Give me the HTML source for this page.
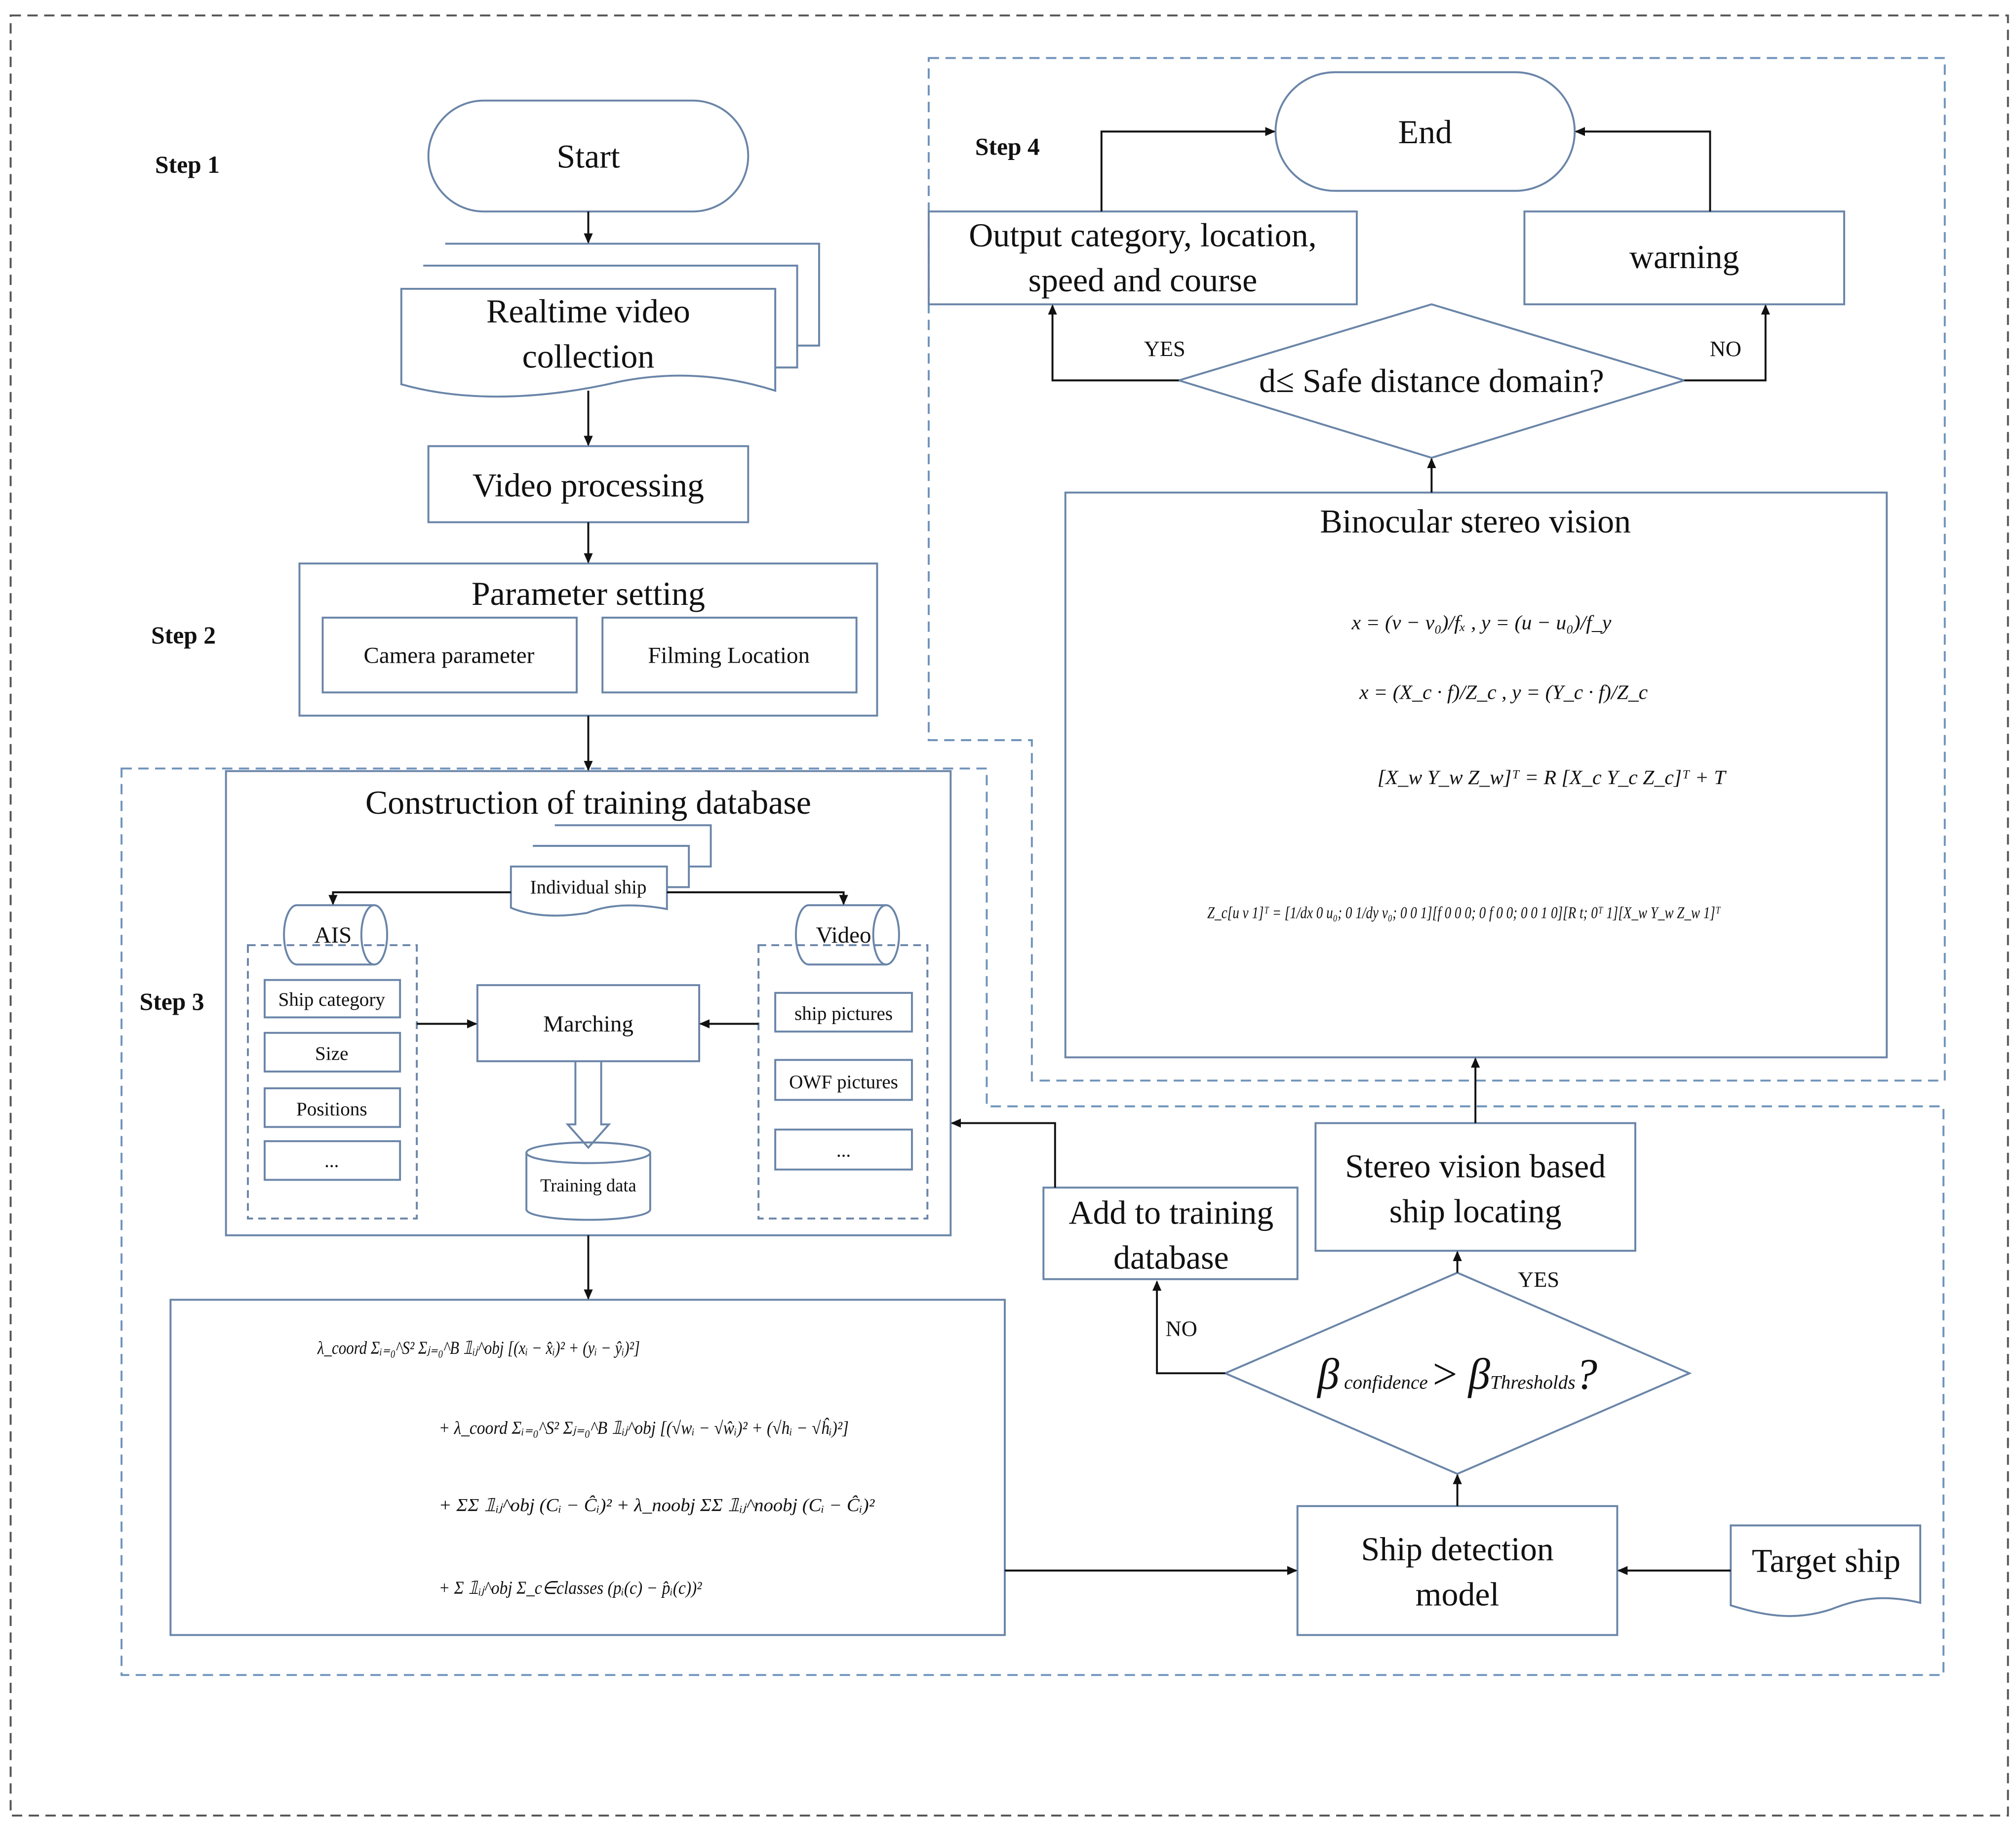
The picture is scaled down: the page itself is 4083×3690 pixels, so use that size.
<!DOCTYPE html>
<html><head><meta charset="utf-8"><style>
html,body{margin:0;padding:0;background:#fff}
svg{display:block}
text{font-family:"Liberation Serif",serif;fill:#111}
</style></head><body>
<svg width="4083" height="3690" viewBox="0 0 1563 1413" xmlns="http://www.w3.org/2000/svg">
<defs><marker id="a" markerWidth="8" markerHeight="8" refX="7" refY="4" orient="auto" markerUnits="userSpaceOnUse"><path d="M0,0.5 L8,4 L0,7.5 z" fill="#111"/></marker></defs>
<rect width="1563" height="1413" fill="#fff"/>
<rect x="8" y="12" width="1549" height="1396" fill="none" stroke="#555" stroke-width="1.5" stroke-dasharray="8,5"/>
<path d="M720,45 H1508 V838 H800 V574 H720 Z" fill="none" stroke="#6f93bb" stroke-width="1.5" stroke-dasharray="8,5"/>
<path d="M94,596 H765 V858 H1507 V1299 H94 Z" fill="none" stroke="#6f93bb" stroke-width="1.5" stroke-dasharray="8,5"/>
<g fill="none" stroke="#6a85a8" stroke-width="1.5">
<rect x="332" y="78" width="248" height="86" rx="43"/>
<path d="M345,189 H635 V268 H618"/>
<path d="M328,206 H618 V285 H601"/>
<path d="M311,224 H601 V303 C560,290 520,288 480,296 C420,310 360,312 311,298 Z" fill="#fff"/>
<rect x="332" y="346" width="248" height="59"/>
<rect x="232" y="437" width="448" height="118"/>
<rect x="250" y="479" width="197" height="58"/>
<rect x="467" y="479" width="197" height="58"/>
<rect x="175" y="598" width="562" height="360"/>
<path d="M430,640 H551 V672 H534"/>
<path d="M413,656 H534 V688 H517"/>
<path d="M396,672 H517 V705 C490,700 470,702 455,708 C430,712 410,710 396,704 Z" fill="#fff"/>
<path d="M230,702 H290 A10,23 0 0 1 290,748 H230 A10,23 0 0 1 230,702 Z"/>
<path d="M290,702 A10,23 0 0 0 290,748"/>
<path d="M627,702 H687 A10,23 0 0 1 687,748 H627 A10,23 0 0 1 627,702 Z"/>
<path d="M687,702 A10,23 0 0 0 687,748"/>
<rect x="192" y="733" width="131" height="212" stroke-dasharray="6,4"/>
<rect x="588" y="733" width="131" height="212" stroke-dasharray="6,4"/>
<rect x="205" y="760" width="105" height="29"/>
<rect x="205" y="801" width="105" height="30"/>
<rect x="205" y="844" width="105" height="30"/>
<rect x="205" y="885" width="105" height="30"/>
<rect x="601" y="770" width="106" height="30"/>
<rect x="601" y="822" width="106" height="31"/>
<rect x="601" y="876" width="106" height="31"/>
<rect x="370" y="764" width="172" height="59"/>
<path d="M446,823 V872 H440 L456,890 L472,872 H466 V823"/>
<path d="M408,894 A48,8 0 0 1 504,894 V938 A48,8 0 0 1 408,938 Z"/>
<path d="M408,894 A48,8 0 0 0 504,894"/>
<rect x="132" y="1008" width="647" height="260"/>
<rect x="1006" y="1168" width="248" height="100"/>
<path d="M1342,1183 H1489 V1243 C1460,1236 1440,1240 1420,1248 C1390,1258 1365,1252 1342,1245 Z"/>
<path d="M950,1065 L1130,987 L1310,1065 L1130,1143 Z"/>
<rect x="1020" y="871" width="248" height="99"/>
<rect x="826" y="382" width="637" height="438"/>
<rect x="809" y="921" width="197" height="71"/>
<path d="M914,295 L1110,236 L1306,295 L1110,355 Z"/>
<rect x="720" y="164" width="332" height="72"/>
<rect x="1182" y="164" width="248" height="72"/>
<rect x="989" y="56" width="232" height="92" rx="46"/>
</g>
<g fill="none" stroke="#111" stroke-width="1.5" marker-end="url(#a)">
<path d="M456,164 V188"/><path d="M456,303 V345"/><path d="M456,405 V436"/><path d="M456,555 V597"/>
<path d="M396,692 H258 V701"/><path d="M517,692 H654 V701"/>
<path d="M323,794 H369"/><path d="M588,794 H543"/>
<path d="M456,958 V1007"/><path d="M779,1218 H1005"/><path d="M1342,1218 H1255"/>
<path d="M1130,1168 V1144"/><path d="M1130,987 V971"/><path d="M1144,871 V821"/>
<path d="M950,1065 H897 V994"/><path d="M818,921 V871 H738"/>
<path d="M1110,382 V356"/><path d="M914,295 H816 V237"/><path d="M1306,295 H1369 V237"/>
<path d="M854,164 V102 H988"/><path d="M1326,164 V102 H1222"/>
</g>
<g text-anchor="middle" font-size="26">
<text x="456" y="130">Start</text>
<text x="456" y="250">Realtime video</text><text x="456" y="285">collection</text>
<text x="456" y="385">Video processing</text>
<text x="456" y="469">Parameter setting</text>
<text x="456" y="631">Construction of training database</text>
<text x="1130" y="1210">Ship detection</text><text x="1130" y="1245">model</text>
<text x="1416" y="1219">Target ship</text>
<text x="1144" y="913">Stereo vision based</text><text x="1144" y="948">ship locating</text>
<text x="908" y="949">Add to training</text><text x="908" y="984">database</text>
<text x="1144" y="413">Binocular stereo vision</text>
<text x="1110" y="304">d≤ Safe distance domain?</text>
<text x="886" y="191">Output category,  location,</text><text x="886" y="226">speed and course</text>
<text x="1306" y="208">warning</text>
<text x="1105" y="111">End</text>
</g>
<g text-anchor="middle" font-size="18">
<text x="348" y="514">Camera parameter</text><text x="565" y="514">Filming Location</text>
<text x="258" y="731">AIS</text><text x="654" y="731">Video</text>
<text x="456" y="800">Marching</text>
</g>
<g text-anchor="middle" font-size="15">
<text x="456" y="693">Individual ship</text>
<text x="257" y="780">Ship category</text><text x="257" y="822">Size</text><text x="257" y="865">Positions</text><text x="257" y="905">...</text>
<text x="654" y="791">ship pictures</text><text x="654" y="844">OWF pictures</text><text x="654" y="897">...</text>
<text x="456" y="924" font-size="14">Training data</text>
</g>
<g font-size="17">
<text x="903" y="276" text-anchor="middle">YES</text><text x="1338" y="276" text-anchor="middle">NO</text>
<text x="1193" y="998" text-anchor="middle">YES</text><text x="916" y="1036" text-anchor="middle">NO</text>
</g>
<text x="1130" y="1077" text-anchor="middle" font-size="34" font-style="italic">β<tspan font-size="15"> confidence </tspan><tspan font-style="normal">&gt;</tspan> β<tspan font-size="15">Thresholds</tspan>?</text>
<g font-weight="bold" font-size="19">
<text x="120" y="134">Step 1</text><text x="117" y="499">Step 2</text><text x="108" y="783">Step 3</text><text x="756" y="120">Step 4</text>
</g>
<g font-size="16" font-style="italic">
<text x="1048" y="488">x = (v − v₀)/fₓ , y = (u − u₀)/f_y</text>
<text x="1054" y="542">x = (X_c · f)/Z_c , y = (Y_c · f)/Z_c</text>
<text x="1068" y="608">[X_w Y_w Z_w]ᵀ = R [X_c Y_c Z_c]ᵀ + T</text>
<text x="936" y="712" font-size="13" textLength="398" lengthAdjust="spacingAndGlyphs">Z_c[u v 1]ᵀ = [1/dx 0 u₀; 0 1/dy v₀; 0 0 1][f 0 0 0; 0 f 0 0; 0 0 1 0][R t; 0ᵀ 1][X_w Y_w Z_w 1]ᵀ</text>
</g>
<g font-size="14" font-style="italic">
<text x="246" y="1050" textLength="250" lengthAdjust="spacingAndGlyphs">λ_coord Σᵢ₌₀^S² Σⱼ₌₀^B 𝟙ᵢⱼ^obj [(xᵢ − x̂ᵢ)² + (yᵢ − ŷᵢ)²]</text>
<text x="340" y="1112" textLength="318" lengthAdjust="spacingAndGlyphs">+ λ_coord Σᵢ₌₀^S² Σⱼ₌₀^B 𝟙ᵢⱼ^obj [(√wᵢ − √ŵᵢ)² + (√hᵢ − √ĥᵢ)²]</text>
<text x="340" y="1172" textLength="338" lengthAdjust="spacingAndGlyphs">+ ΣΣ 𝟙ᵢⱼ^obj (Cᵢ − Ĉᵢ)² + λ_noobj ΣΣ 𝟙ᵢⱼ^noobj (Cᵢ − Ĉᵢ)²</text>
<text x="340" y="1236" textLength="204" lengthAdjust="spacingAndGlyphs">+ Σ 𝟙ᵢⱼ^obj Σ_c∈classes (pᵢ(c) − p̂ᵢ(c))²</text>
</g>
</svg>
</body></html>
